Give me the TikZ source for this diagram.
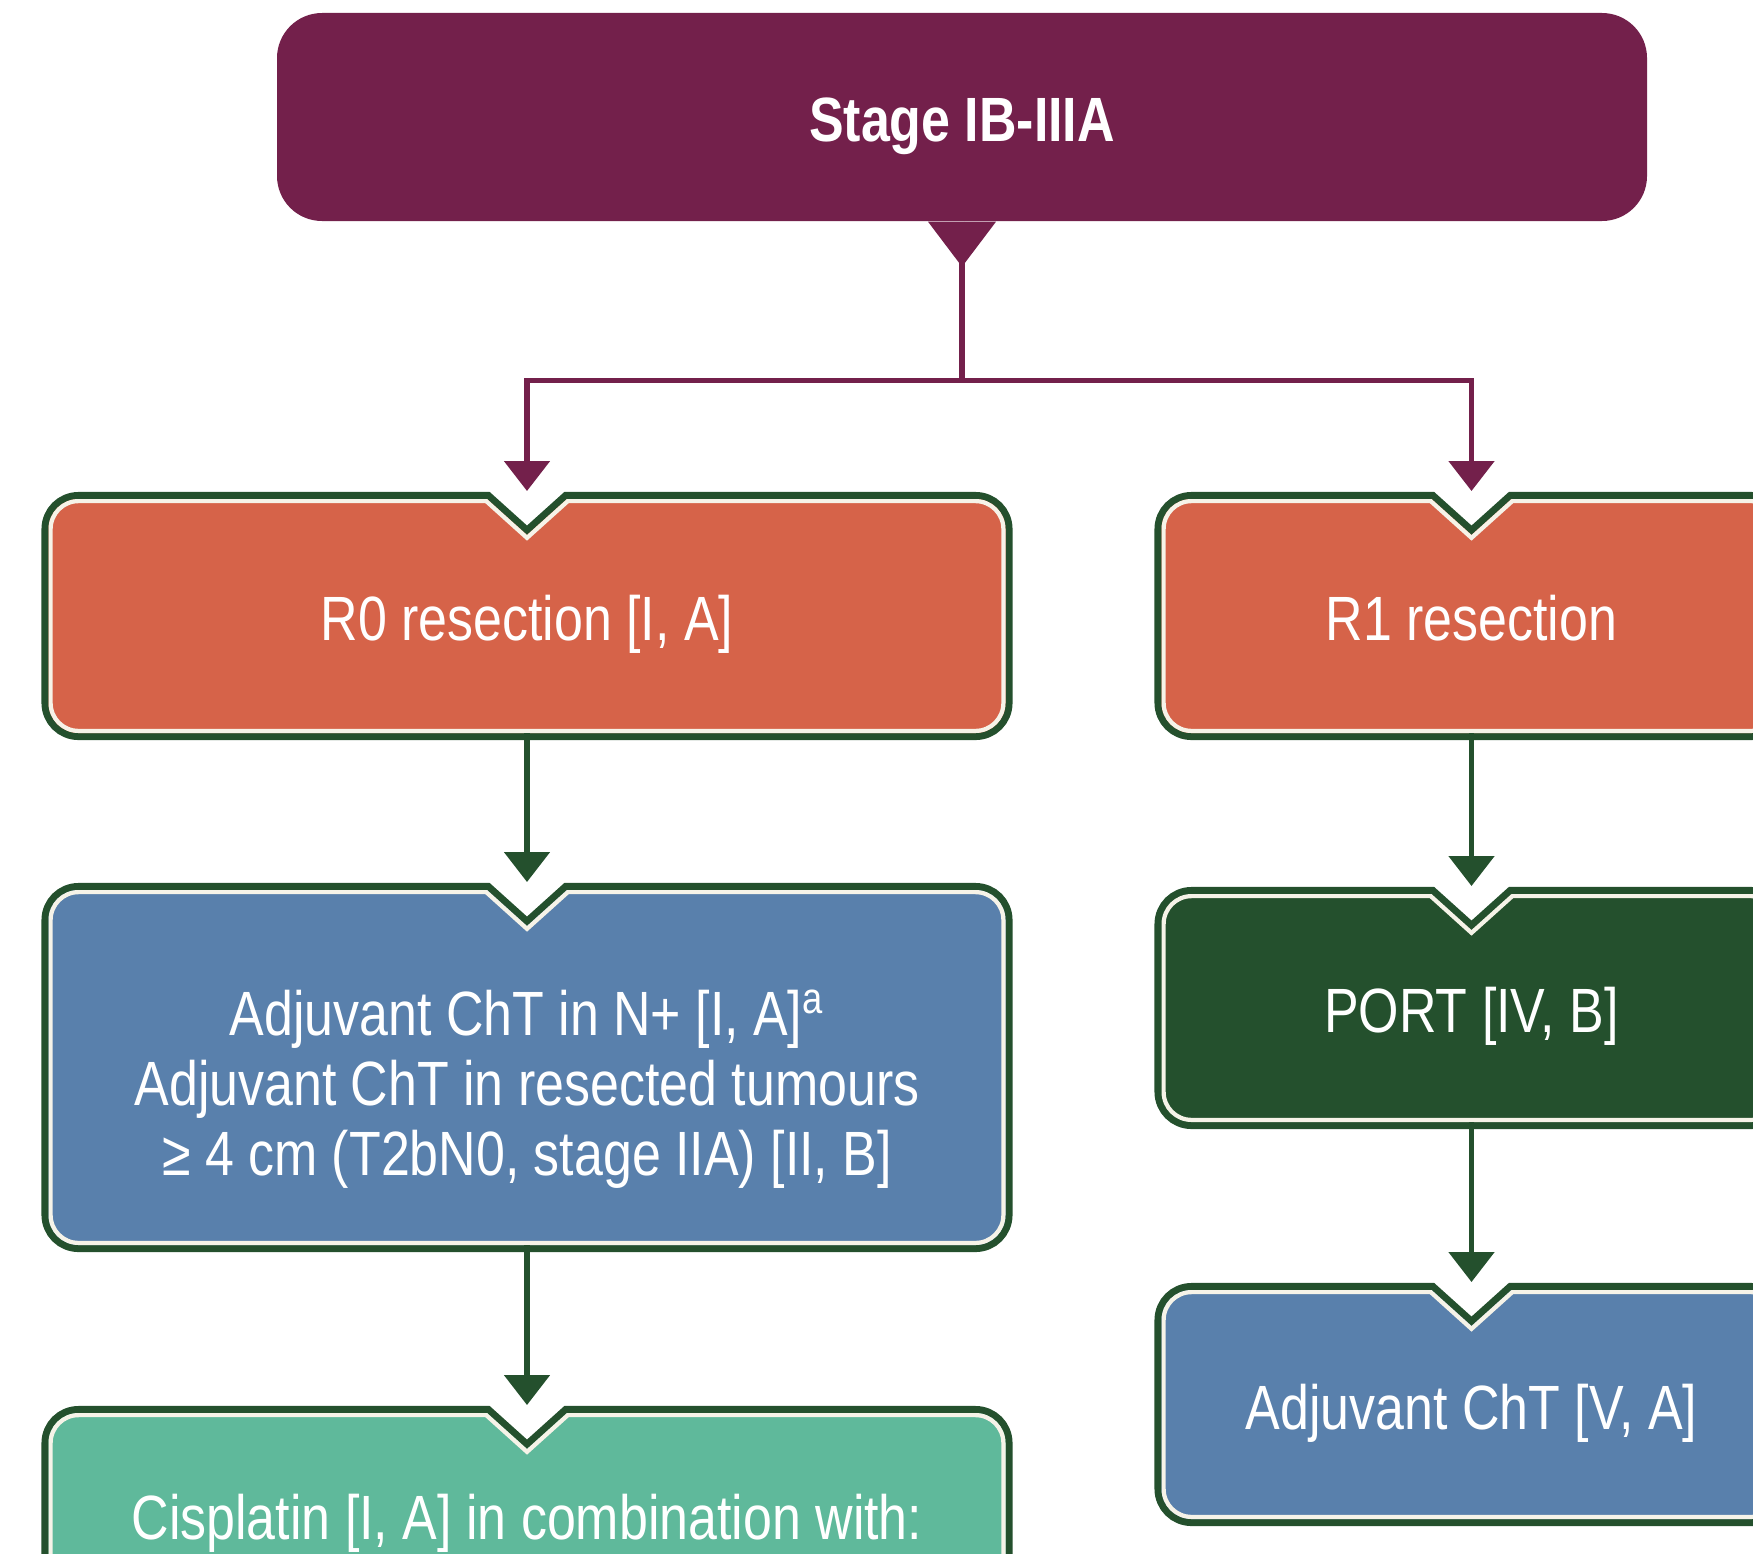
\documentclass[tikz,border=0pt]{standalone}
\usepackage{fontspec}
\setmainfont[FakeStretch=0.83]{Liberation Sans}
\usepackage{tikz}
\usetikzlibrary{arrows.meta, positioning, backgrounds, calc}
\definecolor{stagecolor}{RGB}{115,32,75}
\definecolor{resectcolor}{RGB}{214,99,73}
\definecolor{chtcolor}{RGB}{89,128,172}
\definecolor{portcolor}{RGB}{36,80,45}
\definecolor{ciscolor}{RGB}{95,185,155}
\definecolor{framegreen}{RGB}{36,80,45}
\definecolor{framewhite}{RGB}{246,243,232}
\newcommand{\notchw}{0.4cm}
\newcommand{\notchd}{0.36cm}
\newcommand{\framerad}{0.3cm}
\tikzset{
  stagebox/.style={rectangle, rounded corners=0.45cm, fill=stagecolor,
                   minimum width=13.7cm, minimum height=2.08cm,
                   text height=14.2pt, text depth=0pt,
                   text=white, font=\fontsize{17.8}{20}\selectfont\bfseries},
  flowbox/.style={rectangle, outer sep=0pt, align=center, text=white,
                  text height=14.2pt, text depth=0pt,
                  font=\fontsize{17.8}{20}\selectfont},
  framepath/.style={insert path={
    ([xshift=-\notchw]#1.north) -- ([yshift=-\notchd]#1.north)
    -- ([xshift=\notchw]#1.north)
    -- ([xshift=-\framerad]#1.north east) arc[start angle=90, end angle=0, radius=\framerad]
    -- ([yshift=\framerad]#1.south east) arc[start angle=0, end angle=-90, radius=\framerad]
    -- ([xshift=\framerad]#1.south west) arc[start angle=270, end angle=180, radius=\framerad]
    -- ([yshift=-\framerad]#1.north west) arc[start angle=180, end angle=90, radius=\framerad]
    -- cycle}},
  stagearrow/.style={-{Triangle[width=0.45cm, length=0.3cm]}, line width=1.5pt,
                     draw=stagecolor, shorten >=0.08cm},
  flowarrow/.style={-{Triangle[width=0.45cm, length=0.3cm]}, line width=1.5pt,
                    draw=framegreen, shorten >=0.08cm},
}
% frame with notch: green band, white inner line, fill
\newcommand{\notchframe}[2]{%
  \draw[framegreen, line width=4pt, framepath=#1];
  \fill[#2, framepath=#1];
  \begin{scope}
    \clip[framepath=#1];
    \draw[framewhite, line width=2.4pt, framepath=#1];
  \end{scope}}

\begin{document}
\begin{tikzpicture}[node distance=1.57cm and 1.56cm]
  \useasboundingbox (0,0) rectangle (17.53,-15.53);
  \clip (0,0) rectangle (17.53,-15.53);

  \node[stagebox] (stage) at (9.62,-1.17) {Stage IB-IIIA};

  \node[flowbox, minimum width=9.57cm, minimum height=2.34cm]
    (r0) at (5.27,-6.16) {R0 resection [I, A]};
  \node[flowbox, minimum width=6.2cm, minimum height=2.34cm, right=1.56cm of r0]
    (r1) {R1 resection};

  \node[flowbox, minimum width=9.57cm, minimum height=3.55cm, below=1.57cm of r0,
        text height=61.7pt]
    (adj) {Adjuvant ChT in N+ [I, A]\textsuperscript{a}\\
           Adjuvant ChT in resected tumours\\
           ≥ 4 cm (T2bN0, stage IIA) [II, B]};
  \node[flowbox, minimum width=6.2cm, minimum height=2.28cm, below=1.61cm of r1]
    (port) {PORT [IV, B]};

  \node[flowbox, minimum width=6.2cm, minimum height=2.29cm, below=1.68cm of port]
    (adjr1) {Adjuvant ChT [V, A]};
  \node[flowbox, minimum width=9.57cm, minimum height=2.04cm, below=1.68cm of adj]
    (cis) {Cisplatin [I, A] in combination with:};

  \begin{pgfonlayer}{background}
    \notchframe{r0}{resectcolor}
    \notchframe{r1}{resectcolor}
    \notchframe{adj}{chtcolor}
    \notchframe{port}{portcolor}
    \notchframe{adjr1}{chtcolor}
    \notchframe{cis}{ciscolor}
  \end{pgfonlayer}

  % split below the stage box
  \fill[stagecolor] ([xshift=-0.34cm]stage.south) -- ([xshift=0.34cm]stage.south)
    -- ([yshift=-0.45cm]stage.south) -- cycle;
  \coordinate[below=1.59cm of stage] (split);
  \draw[stagecolor, line width=1.5pt] (stage.south) -- (split);
  \draw[stagearrow] (split) -| (r0);
  \draw[stagearrow] (split) -| (r1);

  \draw[flowarrow] (r0) -- (adj);
  \draw[flowarrow] (adj) -- (cis);
  \draw[flowarrow] (r1) -- (port);
  \draw[flowarrow] (port) -- (adjr1);

\end{tikzpicture}
\end{document}
